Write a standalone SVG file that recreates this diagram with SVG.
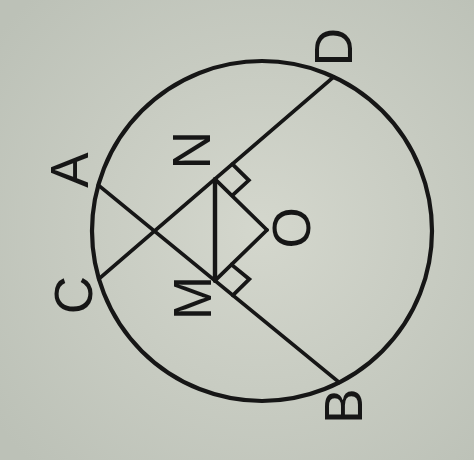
<svg xmlns="http://www.w3.org/2000/svg" width="474" height="460" viewBox="0 0 474 460">
  <defs>
    <radialGradient id="bg" cx="0.55" cy="0.5" r="0.7">
      <stop offset="0" stop-color="#d4d7cd"/>
      <stop offset="1" stop-color="#bcc1b7"/>
    </radialGradient>
    <style>
      .ln { stroke: #161616; stroke-width: 3.8; fill: none; stroke-linecap: round; stroke-linejoin: miter; }
      .circ { stroke: #161616; stroke-width: 4.2; fill: none; }
      .lbl { font-family: "Liberation Sans", Arial, sans-serif; font-size: 53px; fill: #161616; text-anchor: middle; }
    </style>
  </defs>
  <rect x="0" y="0" width="474" height="460" fill="url(#bg)"/>

  <g id="circle">
    <circle class="circ" cx="262" cy="231" r="170"/>
  </g>

  <g id="connectors">
    <line id="AB" class="ln" x1="98.3" y1="185.1" x2="339.2" y2="382.4"/>
    <line id="CD" class="ln" x1="98.9" y1="278.9" x2="333.7" y2="76.9"/>
    <line id="MN" class="ln" style="stroke-width:4.4" x1="215" y1="179.2" x2="215" y2="280.7"/>
    <line id="NO" class="ln" x1="215" y1="179.2" x2="267" y2="230"/>
    <line id="MO" class="ln" x1="215" y1="280.7" x2="267" y2="230"/>
    <polyline id="rightN" class="ln" points="232.4,164.2 248.8,180.3 232.4,195.3"/>
    <polyline id="rightM" class="ln" points="231.5,264.6 249.3,279.2 232.8,295.3"/>
  </g>

  <g id="A"><text class="lbl" transform="translate(69,170) rotate(-90)" x="0" y="19">A</text></g>
  <g id="C"><text class="lbl" transform="translate(73,295) rotate(-90)" x="0" y="19">C</text></g>
  <g id="D"><text class="lbl" transform="translate(333,47) rotate(-90)" x="0" y="19">D</text></g>
  <g id="B"><text class="lbl" transform="translate(343,406) rotate(-90)" x="0" y="19">B</text></g>
  <g id="N"><text class="lbl" transform="translate(191,150) rotate(-90)" x="0" y="19">N</text></g>
  <g id="M"><text class="lbl" transform="translate(192,298) rotate(-90)" x="0" y="19">M</text></g>
  <g id="O"><text class="lbl" transform="translate(291,228) rotate(-90)" x="0" y="19">O</text></g>
</svg>
